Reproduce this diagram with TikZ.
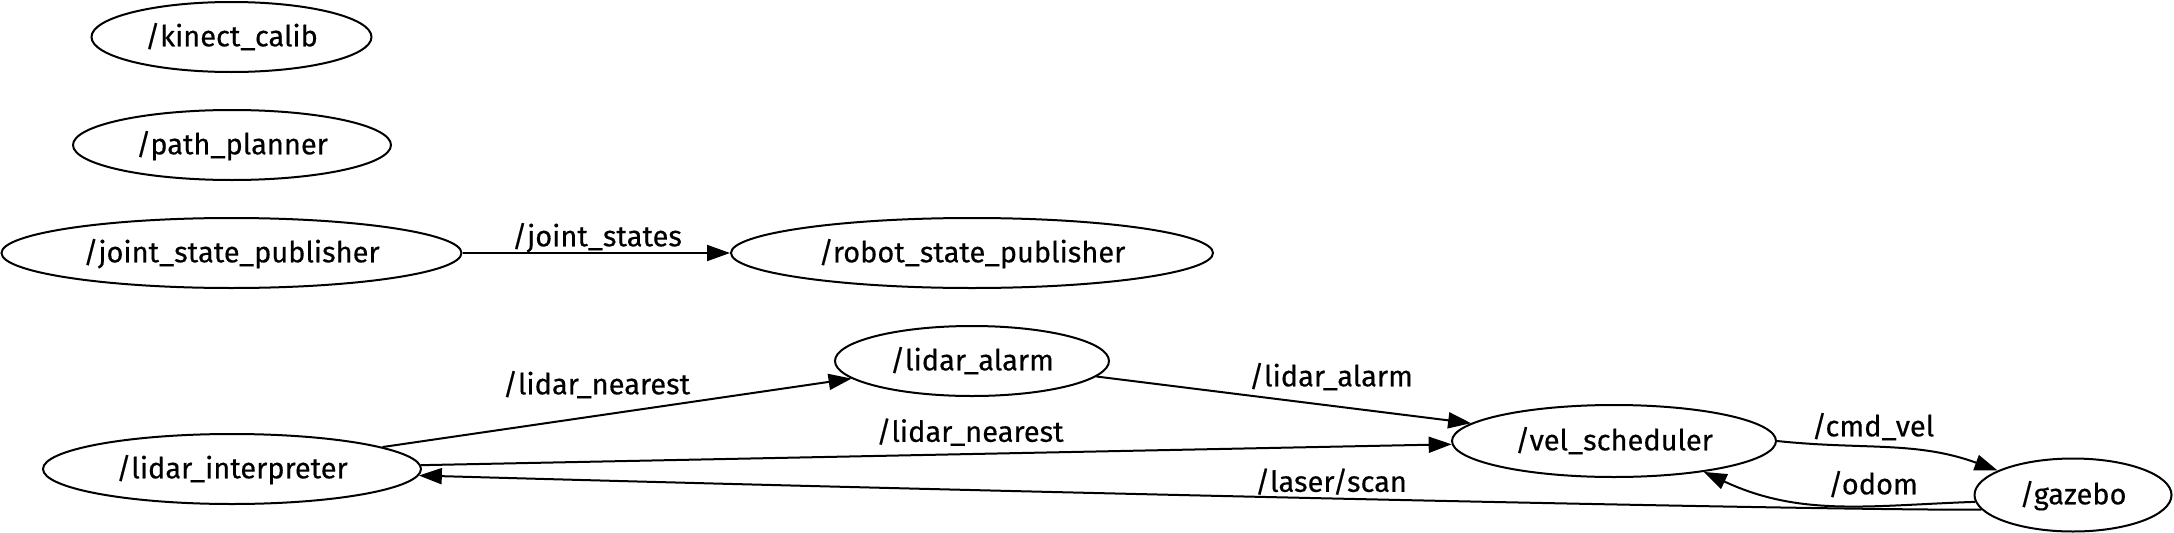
\documentclass[tikz,border=0pt]{standalone}
\usepackage{fontspec}
\setmainfont{Fira Sans}[FakeBold=0.4]
\usetikzlibrary{arrows.meta,shapes.geometric}
\begin{document}
\begin{tikzpicture}[x=0.5pt,y=0.5pt,
    font=\fontsize{14.5}{17}\selectfont,
    every node/.style={inner sep=0pt,text height=0.93em,text depth=0pt},
    rosnode/.style={draw,ellipse,line width=1pt,minimum height=35pt},
    topic/.style={},
    pub/.style={-{Triangle[length=11.5pt,width=8pt]},line width=1pt}]
      \useasboundingbox (0,0) rectangle (2174,532);
      \draw
        (231.5,495) node[rosnode,minimum width=140pt] (kinect){/kinect\_calib}
        (232,387) node[rosnode,minimum width=159pt] (planner){/path\_planner}
        (231.5,279) node[rosnode,minimum width=230pt] (jsp){/joint\_state\_publisher}
        (972,279) node[rosnode,minimum width=241pt] (rsp){/robot\_state\_publisher}
        (972,171) node[rosnode,minimum width=137pt] (alarm){/lidar\_alarm}
        (232,63) node[rosnode,minimum width=189pt] (interp){/lidar\_interpreter}
        (1614,91) node[rosnode,minimum width=162pt,minimum height=36pt] (vel){/vel\_scheduler}
        (2073,37) node[rosnode,minimum width=98.5pt,minimum height=36.5pt] (gazebo){/gazebo};
      \draw
        (597,295) node[topic] (t1){/joint\_states}
        (596.5,147) node[topic] (t2){/lidar\_nearest}
        (1331,155) node[topic] (t3){/lidar\_alarm}
        (970,99.5) node[topic] (t4){/lidar\_nearest}
        (1873,105) node[topic] (t5){/cmd\_vel}
        (1873,47) node[topic] (t6){/odom}
        (1331,49.5) node[topic] (t7){/laser/scan};
      \begin{scope}[pub]
        \draw (jsp) to (rsp);
        \draw (interp) to (alarm);
        \draw (alarm) to (vel);
        \draw (interp) to (vel);
        \draw (vel.east) to[out=-6,in=160] (gazebo.162);
        \draw (gazebo.184) to[out=182,in=-25] (vel.-19);
        \draw (gazebo.189) .. controls +(181:100) and +(-1.6:700) .. (interp.-2);
      \end{scope}
    \end{tikzpicture}
\end{document}
